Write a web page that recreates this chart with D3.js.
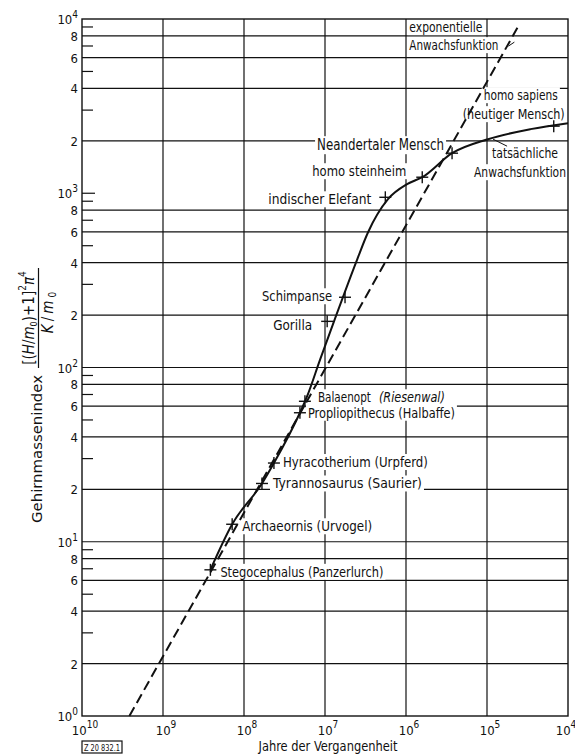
<!DOCTYPE html>
<html>
<head>
<meta charset="utf-8">
<script src="https://cdn.jsdelivr.net/npm/d3@7"></script>
<style>
  body { margin: 0; background: #fff; }
  text { font-family: "Liberation Sans Narrow", "DejaVu Sans Condensed", sans-serif; fill: #111; }
</style>
</head>
<body>
<div id="chart"></div>
<script>
// finds: name, years before present, brain mass index
const names = ["Stegocephalus (Panzerlurch)", "Archaeornis (Urvogel)", "Tyrannosaurus (Saurier)",
  "Hyracotherium (Urpferd)", "Propliopithecus (Halbaffe)", "Balaenopt (Riesenwal)", "Gorilla",
  "Schimpanse", "indischer Elefant", "homo steinheim", "Neandertaler Mensch", "homo sapiens"];
const years = [2.6e8, 1.4e8, 6.0e7, 4.27e7, 2.04e7, 1.77e7, 9.4e6, 5.66e6, 1.8e6, 6.3e5, 2.7e5, 1.5e4];
const index = [6.9, 12.6, 21.6, 28.3, 55, 64, 184, 253, 948, 1236, 1698, 2427];

// tatsächliche Anwachsfunktion
const curveYears = [2.6e8, 1.4e8, 6.0e7, 4.27e7, 2.04e7, 1.67e7, 1.15e7, 7.74e6, 4.0e6, 2.94e6,
  1.67e6, 9.7e5, 6.3e5, 2.7e5, 9.7e4, 2.9e4, 1e4];
const curveIndex = [6.9, 12.6, 21.6, 28.3, 55, 68, 111, 184, 418, 597, 924, 1127, 1236, 1698, 2043, 2333, 2525];

// exponentielle Anwachsfunktion (straight line)
const expYears = [2.6e9, 4.1e4];
const expIndex = [1, 9.1e3];

const xTicks = [1e10, 1e9, 1e8, 1e7, 1e6, 1e5, 1e4];
const yDecades = [1, 10, 100, 1000, 10000];
const yLabelled = [2, 4, 6, 8];
const yMinor = [3, 5, 7, 9];

const width = 575, height = 755;
const pLeft = 82, pRight = 568, pTop = 19, pBottom = 716;

const x = d3.scaleLog().domain([1e10, 1e4]).range([pLeft, pRight]);
const y = d3.scaleLog().domain([1, 1e4]).range([pBottom, pTop]);

const svg = d3.select("#chart").append("svg")
  .attr("width", width)
  .attr("height", height);

const gGrid = svg.append("g").attr("stroke", "#111").attr("stroke-width", 1.2);
const gBack = svg.append("g");
const gFrame = svg.append("g");
const gLines = svg.append("g");
const gText = svg.append("g");

// vertical grid
gGrid.selectAll(".vx").data(xTicks.slice(1, -1)).enter().append("line")
  .attr("x1", d => x(d)).attr("x2", d => x(d))
  .attr("y1", pTop).attr("y2", pBottom);

// horizontal grid: 2,4,6,8 and 10, 100 (no line at 1000)
const hLines = [];
const minorTicks = [];
yDecades.slice(0, -1).forEach(d => {
  yLabelled.forEach(m => hLines.push(m * d));
  yMinor.forEach(m => minorTicks.push(m * d));
  if (d === 10 || d === 100) hLines.push(d);
  if (d === 1000) minorTicks.push(d);
});
gGrid.selectAll(".hy").data(hLines).enter().append("line")
  .attr("x1", pLeft).attr("x2", pRight)
  .attr("y1", d => y(d)).attr("y2", d => y(d));
gGrid.selectAll(".mt").data(minorTicks).enter().append("line")
  .attr("x1", pLeft).attr("x2", d => pLeft + (d === 1000 ? 13 : 11))
  .attr("y1", d => y(d)).attr("y2", d => y(d));

gFrame.append("rect")
  .attr("x", pLeft).attr("y", pTop)
  .attr("width", pRight - pLeft).attr("height", pBottom - pTop)
  .attr("fill", "none").attr("stroke", "#111").attr("stroke-width", 1.4);

// y tick labels
const yLab = gText.append("g").attr("font-size", 13).attr("text-anchor", "end");
yDecades.forEach(d => {
  const t = yLab.append("text").attr("x", 78).attr("y", y(d) + 5);
  t.append("tspan").text("10");
  t.append("tspan").attr("dy", -6).attr("font-size", 10).text(Math.round(Math.log10(d)));
});
yDecades.slice(0, -1).forEach(d => {
  yLabelled.forEach(m => {
    yLab.append("text").attr("x", 78).attr("y", y(m * d) + 5).text(m);
  });
});

// x tick labels
xTicks.forEach(d => {
  const t = gText.append("text").attr("font-size", 13).attr("text-anchor", "middle")
    .attr("x", Math.min(x(d) + 3, 566)).attr("y", 735);
  t.append("tspan").text("10");
  t.append("tspan").attr("dy", -7).attr("font-size", 10).text(Math.round(Math.log10(d)));
});

// curves
const line = d3.line().x(d => x(d[0])).y(d => y(d[1]));
gLines.append("path")
  .datum(d3.zip(expYears, expIndex))
  .attr("d", line)
  .attr("fill", "none").attr("stroke", "#111").attr("stroke-width", 2)
  .attr("stroke-dasharray", "10,5");
gLines.append("path")
  .datum(d3.zip(curveYears, curveIndex))
  .attr("d", line.curve(d3.curveMonotoneX))
  .attr("fill", "none").attr("stroke", "#111").attr("stroke-width", 2);

// crosses
const cross = gLines.selectAll(".cross").data(d3.range(names.length)).enter().append("g")
  .attr("transform", i => `translate(${x(years[i])},${y(index[i])})`)
  .attr("stroke", "#111").attr("stroke-width", 1.4);
cross.append("line").attr("x1", -6).attr("x2", 6);
cross.append("line").attr("y1", -6).attr("y2", 6);

// label placement relative to the cross: dx, dy, anchor, text length
const labelPos = {
  "Stegocephalus (Panzerlurch)": [10, 7, "start", 163],
  "Archaeornis (Urvogel)": [10, 7, "start", 130],
  "Tyrannosaurus (Saurier)": [11, 5, "start", 149],
  "Hyracotherium (Urpferd)": [9, 4, "start", 145],
  "Propliopithecus (Halbaffe)": [8, 5, "start", 147],
  "Balaenopt (Riesenwal)": [13, 1, "start", 127],
  "Gorilla": [-15, 9, "end", 39],
  "Schimpanse": [-13, 4, "end", 70],
  "indischer Elefant": [-14, 7, "end", 103],
  "homo steinheim": [-16, -1, "end", 94],
  "Neandertaler Mensch": [-8, -3, "end", 127]
};

function addText(px, py, str, anchor, len, size, italic) {
  const t = gText.append("text").attr("x", px).attr("y", py)
    .attr("text-anchor", anchor).attr("font-size", size || 14.5)
    .attr("font-style", italic ? "italic" : null)
    .attr("textLength", len).attr("lengthAdjust", "spacingAndGlyphs")
    .text(str);
  const b = t.node().getBBox();
  gBack.append("rect").attr("x", b.x - 2).attr("y", b.y)
    .attr("width", b.width + 4).attr("height", b.height).attr("fill", "#fff");
  return t;
}

function addLabel(px, py, str, anchor, len, size) {
  if (/Riesenwal/.test(str)) {
    // name upright, latin remark in italics
    const parts = str.split(" ");
    const first = Math.round(len * 0.42);
    addText(px, py, parts[0], "start", first, size);
    addText(px + first + 8, py, parts[1], "start", len - first - 8, size, true);
  } else {
    addText(px, py, str, anchor, len, size);
  }
}

names.forEach((n, i) => {
  const p = labelPos[n];
  if (!p) return;
  addLabel(x(years[i]) + p[0], y(index[i]) + p[1], n, p[2], p[3], n === "Neandertaler Mensch" ? 15 : 14.5);
});

// homo sapiens, two lines
const hs = names.length - 1;
addLabel(x(years[hs]) + 4, y(index[hs]) - 26, "homo sapiens", "end", 74);
addLabel(x(years[hs]) + 11, y(index[hs]) - 7, "(heutiger Mensch)", "end", 102);

// curve labels
const ex = x(expYears[1]), ey = y(expIndex[1]);
addLabel(ex - 109, ey + 6, "exponentielle", "start", 73);
addLabel(ex - 109, ey + 24, "Anwachsfunktion", "start", 89);
gLines.append("line").attr("x1", ex - 10).attr("y1", ey + 20).attr("x2", ex - 4).attr("y2", ey + 16)
  .attr("stroke", "#111").attr("stroke-width", 1);

const tx = x(9.7e4), ty = y(2043);
addLabel(pRight - 10, ty + 19, "tatsächliche", "end", 66);
addLabel(pRight - 2, ty + 38, "Anwachsfunktion", "end", 92);
gLines.append("line").attr("x1", tx + 5).attr("y1", ty).attr("x2", tx + 19).attr("y2", ty + 7)
  .attr("stroke", "#111").attr("stroke-width", 1);

// axis titles
gText.append("text").attr("x", 328).attr("y", 751).attr("text-anchor", "middle")
  .attr("font-size", 14.5).attr("textLength", 139).attr("lengthAdjust", "spacingAndGlyphs")
  .text("Jahre der Vergangenheit");

gText.append("text").attr("transform", "translate(42,449) rotate(-90)")
  .attr("text-anchor", "middle").attr("font-size", 14.5)
  .attr("textLength", 148).attr("lengthAdjust", "spacingAndGlyphs")
  .text("Gehirnmassenindex");

const num = gText.append("text").attr("transform", "translate(34,318) rotate(-90)")
  .attr("text-anchor", "middle").attr("font-size", 15);
num.append("tspan").text("[(");
num.append("tspan").attr("font-style", "italic").text("H");
num.append("tspan").text("/");
num.append("tspan").attr("font-style", "italic").text("m");
num.append("tspan").attr("font-size", 9).attr("dy", 3).text("0");
num.append("tspan").attr("dy", -3).text(")+1]");
num.append("tspan").attr("font-size", 10).attr("dy", -8).text("2");
num.append("tspan").attr("dy", 8).attr("font-style", "italic").text("π");
num.append("tspan").attr("font-size", 10).attr("dy", -8).text("4");
gText.append("line").attr("x1", 38.5).attr("x2", 38.5).attr("y1", 268).attr("y2", 368)
  .attr("stroke", "#111").attr("stroke-width", 1.2);
const den = gText.append("text").attr("transform", "translate(53,311) rotate(-90)")
  .attr("text-anchor", "middle").attr("font-size", 15).attr("letter-spacing", 3);
den.append("tspan").attr("font-style", "italic").text("K");
den.append("tspan").text("/");
den.append("tspan").attr("font-style", "italic").text("m");
den.append("tspan").attr("font-size", 10).attr("dy", 3).text("0");

// drawing number box
gText.append("rect").attr("x", 82).attr("y", 741).attr("width", 40).attr("height", 12)
  .attr("fill", "none").attr("stroke", "#111").attr("stroke-width", 1.2);
gText.append("text").attr("x", 102).attr("y", 751).attr("text-anchor", "middle")
  .attr("font-size", 9).attr("textLength", 36).attr("lengthAdjust", "spacingAndGlyphs")
  .text("Z 20 832.1");
</script>
</body>
</html>
